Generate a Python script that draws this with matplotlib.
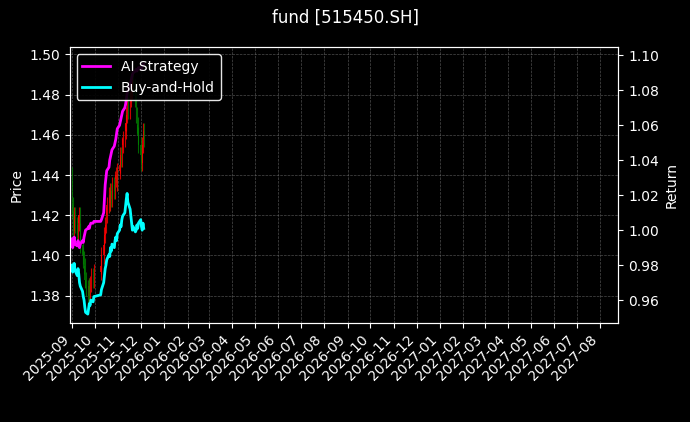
import numpy as np
import pandas as pd
import matplotlib
matplotlib.use("Agg")
import matplotlib.pyplot as plt
import matplotlib.dates as mdates

plt.style.use("dark_background")

# ---------------- DATA ----------------
dates = pd.bdate_range("2025-09-01", "2025-12-05")
dates = dates[(dates < "2025-10-01") | (dates > "2025-10-08")]

close = [1.425, 1.418, 1.412, 1.420, 1.415, 1.410, 1.416, 1.420, 1.412, 1.405, 1.400,
         1.398, 1.395, 1.388, 1.384, 1.380, 1.385, 1.382, 1.386, 1.390, 1.388, 1.392,
         1.395, 1.400, 1.405, 1.410, 1.415, 1.420, 1.425, 1.430, 1.426, 1.432, 1.428,
         1.435, 1.432, 1.438, 1.440, 1.436, 1.442,
         1.445, 1.450, 1.448, 1.455, 1.458, 1.462, 1.466, 1.470, 1.475, 1.472, 1.478,
         1.482, 1.485, 1.488, 1.484, 1.478, 1.470, 1.465, 1.460, 1.455,
         1.450, 1.446, 1.455, 1.462, 1.458]
open_ = [1.440] + close[:-1]

buy_hold = [0.980, 0.976, 0.978, 0.981, 0.977, 0.974, 0.978, 0.975, 0.970, 0.968, 0.965,
            0.962, 0.960, 0.956, 0.953, 0.952, 0.955, 0.958, 0.957, 0.960, 0.959, 0.962,
            0.963, 0.966, 0.970, 0.974, 0.978, 0.980, 0.983, 0.986, 0.985, 0.990, 0.988,
            0.992, 0.990, 0.994, 0.996, 0.994, 0.998,
            1.000, 1.003, 1.002, 1.006, 1.008, 1.010, 1.014, 1.018, 1.021, 1.016, 1.012,
            1.008, 1.004, 1.000, 1.002, 0.999, 1.000, 1.003, 1.001, 1.004,
            1.006, 1.002, 1.000, 1.004, 1.001]

ai_strategy = [0.995, 0.990, 0.993, 0.996, 0.992, 0.991, 0.994, 0.992, 0.990, 0.992, 0.994,
               0.993, 0.996, 0.998, 1.000, 1.001, 1.002, 1.001, 1.003, 1.004, 1.004, 1.005,
               1.005, 1.006, 1.010, 1.018, 1.026, 1.030, 1.034, 1.036, 1.040, 1.042, 1.044,
               1.046, 1.048, 1.050, 1.052, 1.055, 1.058,
               1.060, 1.062, 1.064, 1.066, 1.068, 1.070, 1.072, 1.075, 1.078, 1.080, 1.083,
               1.085, 1.087, 1.089, 1.090, 1.091, 1.092, 1.091, 1.092, 1.093,
               1.093, 1.092, 1.094, 1.095, 1.095]

# ---------------- PLOT ----------------
fig, ax = plt.subplots(figsize=(6.9, 4.22), dpi=100)
fig.patch.set_facecolor("black")
ax.set_facecolor("black")

o = np.array(open_)
c = np.array(close)
colors = np.where(c >= o, "red", "green")
ax.vlines(dates, np.minimum(o, c) - 0.004, np.maximum(o, c) + 0.004, colors=colors, lw=0.8, alpha=0.8)
ax.bar(dates, np.abs(c - o), bottom=np.minimum(o, c), width=0.8, color=colors, alpha=0.8)
ax.set_ylim(1.3665, 1.5036)
ax.set_ylabel("Price")
ax.grid(True, ls="--", lw=0.5, color="gray", alpha=0.6)

ax2 = ax.twinx()
ax2.plot(dates, ai_strategy, color="magenta", lw=2, label="AI Strategy")
ax2.plot(dates, buy_hold, color="cyan", lw=2, label="Buy-and-Hold")
ax2.set_ylim(0.947, 1.1046)
ax2.set_ylabel("Return")
ax2.legend(loc="upper left", facecolor="black", edgecolor="white", framealpha=0.9)

ax.set_xlim(pd.Timestamp("2025-08-29"), pd.Timestamp("2027-08-25"))
ax.xaxis.set_major_locator(mdates.MonthLocator())
ax.xaxis.set_major_formatter(mdates.DateFormatter("%Y-%m"))
plt.setp(ax.get_xticklabels(), rotation=45, ha="right")

fig.suptitle("fund [515450.SH]")
fig.subplots_adjust(left=0.101, right=0.896, top=0.888, bottom=0.235)
fig.savefig("out.png", facecolor="black")
